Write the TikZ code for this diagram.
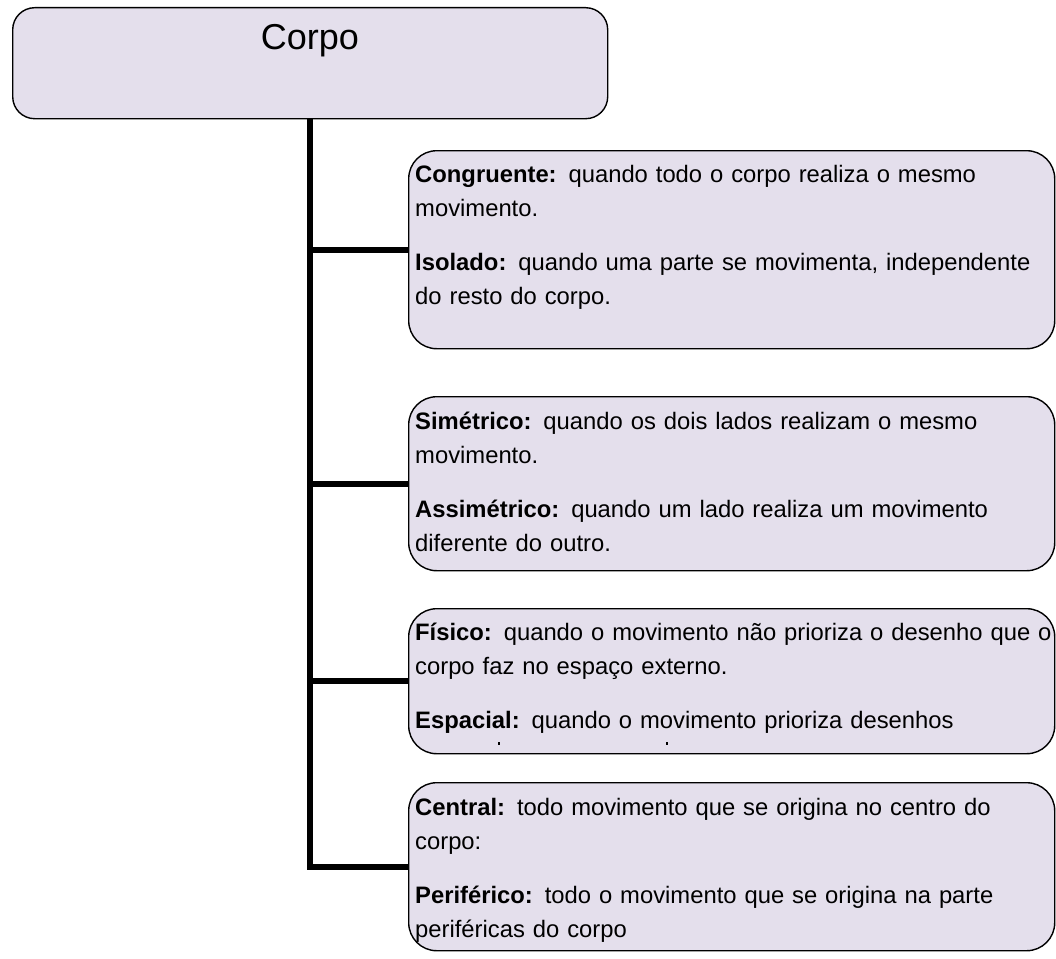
\documentclass[tikz,border=0pt]{standalone}
\usepackage{fontspec}
\setmainfont{Liberation Sans}
\definecolor{boxfill}{RGB}{228,223,236}
\begin{document}
\begin{tikzpicture}[x=1pt,y=-1pt,
  box/.style={draw=black, line width=1.4pt, fill=boxfill, rounded corners=28pt, anchor=north west, inner sep=0pt},
  txt/.style={anchor=north west, inner sep=0pt, align=left, text width=700pt, font=\fontsize{23.8}{34}\selectfont},
  trunk/.style={line width=6pt, line join=miter}]
\useasboundingbox (0,0) rectangle (1056,958);
% boxes
\node[box, rounded corners=22pt, minimum width=595pt, minimum height=111pt] (top) at (12,7) {};
\node[box, minimum width=646pt, minimum height=198pt] (b1) at (408,150) {};
\node[box, minimum width=646pt, minimum height=174pt] (b2) at (408,396) {};
\node[box, minimum width=646pt, minimum height=145pt] (b3) at (408,608) {};
\node[box, minimum width=646pt, minimum height=168pt] (b4) at (408,782) {};
% connectors
\draw[trunk] (top.south) |- (b4.west);
\draw[trunk] (top.south |- b1.west) -- (b1.west);
\draw[trunk] (top.south |- b2.west) -- (b2.west);
\draw[trunk] (top.south |- b3.west) -- (b3.west);
% texts
\node[anchor=base, inner sep=0pt, font=\fontsize{36}{40}\selectfont] (title) at (310,49) {Corpo};
\node[txt] (t1) at (415,157) {\rule{0pt}{25pt}\textbf{Congruente:} quando todo o corpo realiza o mesmo\\ movimento.\\[20pt]
\textbf{Isolado:} quando uma parte se movimenta, independente\\ do resto do corpo.};
\node[txt] (t2) at (415,404) {\rule{0pt}{25pt}\textbf{Simétrico:} quando os dois lados realizam o mesmo\\ movimento.\\[20pt]
\textbf{Assimétrico:} quando um lado realiza um movimento\\ diferente do outro.};
\node[txt] (t3) at (415,615) {\rule{0pt}{25pt}\textbf{Físico:} quando o movimento não prioriza o desenho que o\\ corpo faz no espaço externo.\\[20pt]
\textbf{Espacial:} quando o movimento prioriza desenhos};
\node[txt] (t4) at (415,790) {\rule{0pt}{25pt}\textbf{Central:} todo movimento que se origina no centro do\\ corpo:\\[20pt]
\textbf{Periférico:} todo o movimento que se origina na parte\\ periféricas do corpo};
% clipped remnants of the next line in box 3
\fill (498,742) rectangle (500,745);
\fill (666,742) rectangle (668,745);
\end{tikzpicture}
\end{document}
